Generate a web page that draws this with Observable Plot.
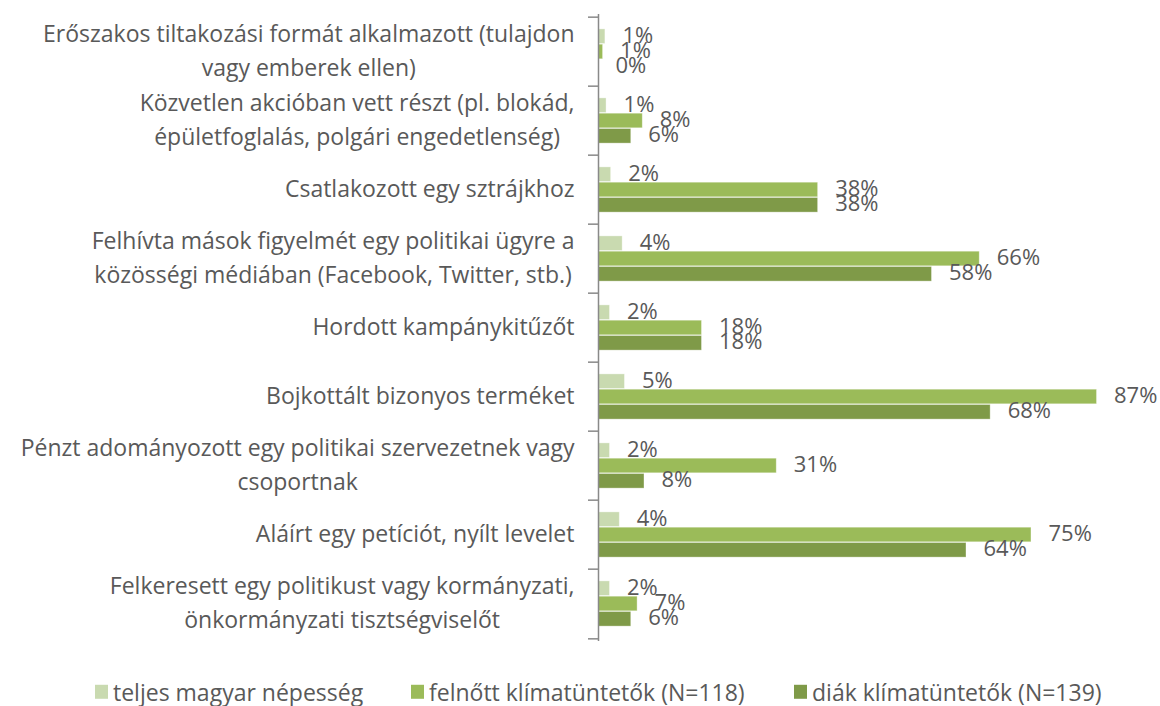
<!DOCTYPE html>
<html>
<head>
<meta charset="utf-8">
<script src="https://cdn.jsdelivr.net/npm/d3@7"></script>
<script src="https://cdn.jsdelivr.net/npm/@observablehq/plot@0.6"></script>
<style>
  body { margin: 0; background: #fff; font-family: "Open Sans", sans-serif; overflow: hidden; }
  #chart svg { display: block; }
  #legend { position: relative; width: 1160px; height: 41px; }
  .item { position: absolute; top: 27px; transform: translateY(-50%); display: flex; align-items: center; font-size: 23px; line-height: 1.15; color: #595959; white-space: nowrap; }
  .sw { width: 13px; height: 14px; margin-right: 5px; }
</style>
</head>
<body>
<div id="chart"></div>
<div id="legend"></div>
<script>
const categories = [
  "Erőszakos tiltakozási formát alkalmazott (tulajdon\nvagy emberek ellen)",
  "Közvetlen akcióban vett részt (pl. blokád,\népületfoglalás, polgári engedetlenség)",
  "Csatlakozott egy sztrájkhoz",
  "Felhívta mások figyelmét egy politikai ügyre a\nközösségi médiában (Facebook, Twitter, stb.)",
  "Hordott kampánykitűzőt",
  "Bojkottált bizonyos terméket",
  "Pénzt adományozott egy politikai szervezetnek vagy\ncsoportnak",
  "Aláírt egy petíciót, nyílt levelet",
  "Felkeresett egy politikust vagy kormányzati,\nönkormányzati tisztségviselőt"
];
const seriesNames = ["teljes magyar népesség", "felnőtt klímatüntetők (N=118)", "diák klímatüntetők (N=139)"];
const populationValues = [1.2, 1.4, 2.2, 4.2, 2.0, 4.6, 2.0, 3.7, 2.0];
const adultValues      = [0.8, 7.7, 38.2, 66.3, 18.0, 86.7, 31.0, 75.3, 6.8];
const studentValues    = [0.0, 5.7, 38.2, 58.0, 18.0, 68.2, 8.0, 64.0, 5.7];
const seriesColors = ["#c9dab0", "#9bbb59", "#7f9a48"];

const W = 1160, H = 665, mTop = 14, mBottom = 24, mLeft = 598, mRight = 44.5;
const bw = (H - mTop - mBottom) / categories.length;
const barH = 15.3;
const blockOff = (bw - 3 * barH) / 2;
const FONT = "'Open Sans', sans-serif";

const seriesValues = [populationValues, adultValues, studentValues];
const tables = seriesValues.map((vals, s) => categories.map((c, i) => ({category: c, value: vals[i], series: seriesNames[s]})));

const marks = [];
tables.forEach((rows, s) => {
  const top = blockOff + s * barH;
  marks.push(Plot.barX(rows, {
    x: "value", y: "category", fill: seriesColors[s],
    insetTop: top, insetBottom: bw - top - barH,
    stroke: "#ffffff", strokeOpacity: 0.45, strokeWidth: 0.8
  }));
});
tables.forEach((rows, s) => {
  const center = blockOff + s * barH + barH / 2 - bw / 2;
  marks.push(Plot.text(rows, {
    x: "value", y: "category", text: d => Math.round(d.value) + "%",
    dx: 17, dy: center - 1, textAnchor: "start", fontSize: 22, fill: "#595959"
  }));
});
marks.push(Plot.ruleX([0], {stroke: "#898989", strokeWidth: 1.5}));
marks.push(Plot.ruleY(categories, {y: d => d, x1: 0, x2: 0, insetLeft: -10, dy: -bw / 2, stroke: "#898989", strokeWidth: 1.5}));
marks.push(Plot.ruleY(categories.slice(-1), {y: d => d, x1: 0, x2: 0, insetLeft: -10, dy: bw / 2, stroke: "#898989", strokeWidth: 1.5}));
marks.push(Plot.text(categories, {
  y: d => d, text: d => d, frameAnchor: "left", textAnchor: "end", dx: -24, dy: -4,
  lineHeight: 1.46, fontSize: 23, fill: "#595959"
}));

const chart = Plot.plot({
  width: W, height: H,
  marginTop: mTop, marginBottom: mBottom, marginLeft: mLeft, marginRight: mRight,
  style: {fontFamily: FONT, background: "#fff", overflow: "visible"},
  x: {domain: [0, 90], axis: null},
  y: {domain: categories, padding: 0, axis: null},
  marks
});
document.getElementById("chart").appendChild(chart);

// Excel-style centered wrap: lines centered on each other, block right-aligned
chart.querySelectorAll("text").forEach(t => {
  const spans = Array.from(t.querySelectorAll("tspan"));
  if (spans.length < 2) return;
  const ws = spans.map(s => s.getComputedTextLength());
  const mx = Math.max(...ws);
  spans.forEach((s, i) => {
    const x0 = parseFloat(s.getAttribute("x") || "0");
    s.setAttribute("x", x0 - (mx - ws[i]) / 2);
  });
});

const legendLeft = [95, 411, 794];
const legend = document.getElementById("legend");
seriesNames.forEach((n, i) => {
  const it = document.createElement("div");
  it.className = "item";
  it.style.left = legendLeft[i] + "px";
  it.innerHTML = `<span class="sw" style="background:${seriesColors[i]}"></span><span>${n}</span>`;
  legend.appendChild(it);
});
</script>
</body>
</html>
